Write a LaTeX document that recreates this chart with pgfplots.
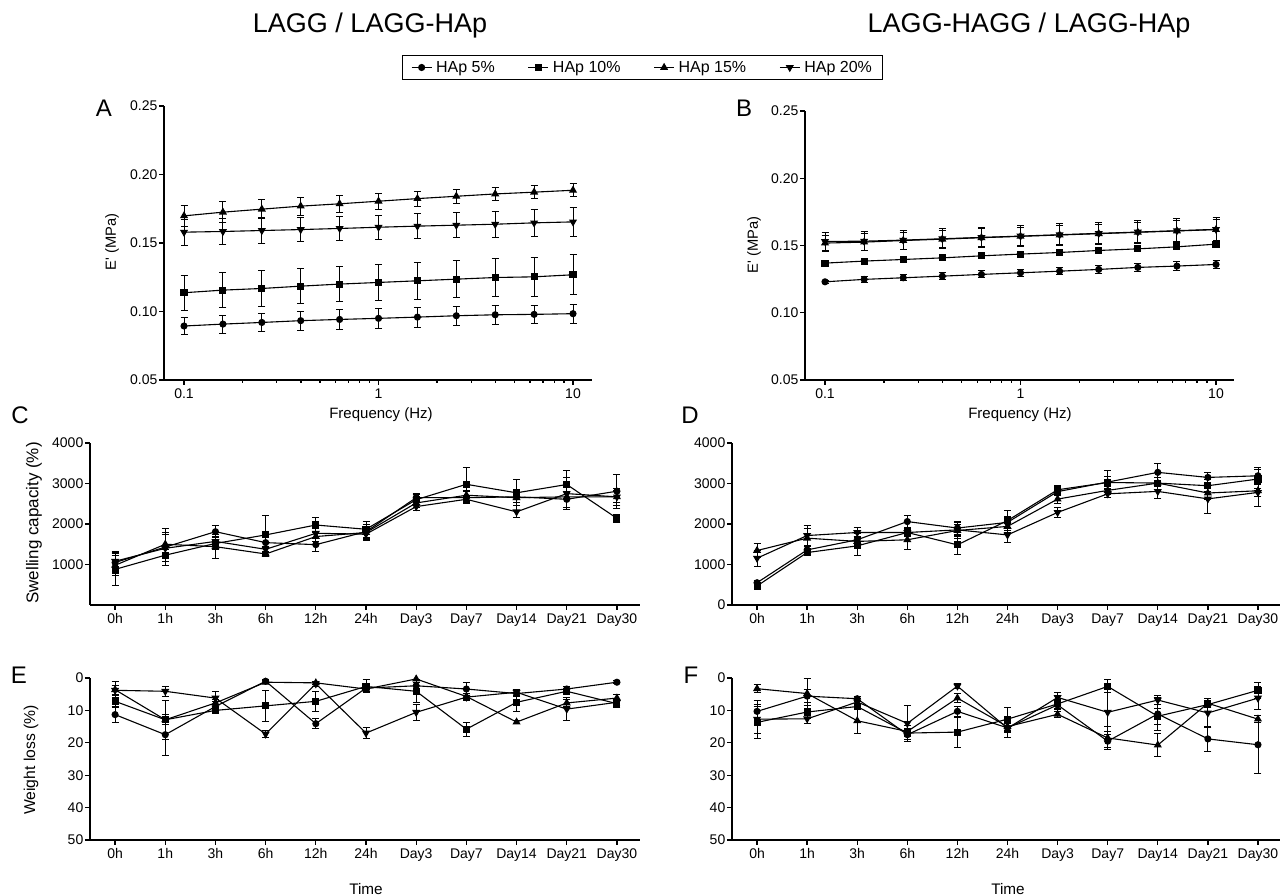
\documentclass[border=0pt]{standalone}
\usepackage{fontspec}
\setmainfont{Liberation Sans}
\usepackage{pgfplots}
\usepackage{pgfplotstable}
\pgfplotsset{compat=1.18}

% columns: x, 5% (c), 10% (s), 15% (t), 20% (v), each with its SD
\pgfplotstableread{
x      c      ce     s      se     t      te     v      ve
0.1    0.0894 0.0065 0.1137 0.0129 0.1698 0.0078 0.1579 0.0095
0.1585 0.0908 0.0066 0.1156 0.0128 0.1725 0.0075 0.1584 0.0093
0.2512 0.0920 0.0067 0.1168 0.0128 0.1747 0.0070 0.1591 0.0092
0.3981 0.0933 0.0068 0.1185 0.0128 0.1769 0.0066 0.1598 0.0090
0.6310 0.0942 0.0070 0.1200 0.0130 0.1786 0.0062 0.1606 0.0088
1      0.0950 0.0072 0.1212 0.0131 0.1805 0.0058 0.1615 0.0087
1.585  0.0959 0.0072 0.1224 0.0133 0.1824 0.0055 0.1623 0.0090
2.512  0.0969 0.0070 0.1236 0.0135 0.1841 0.0052 0.1630 0.0092
3.981  0.0976 0.0070 0.1248 0.0138 0.1858 0.0050 0.1637 0.0095
6.310  0.0979 0.0068 0.1253 0.0140 0.1871 0.0048 0.1647 0.0098
10     0.0984 0.0068 0.1268 0.0146 0.1885 0.0047 0.1654 0.0105
}\tabA

\pgfplotstableread{
x      c      ce     s      se     t      te     v      ve
0.1    0.1230 0.0012 0.1369 0.0008 0.1518 0.0060 0.1530 0.0070
0.1585 0.1248 0.0020 0.1384 0.0008 0.1525 0.0062 0.1532 0.0072
0.2512 0.1260 0.0023 0.1396 0.0009 0.1537 0.0063 0.1540 0.0073
0.3981 0.1272 0.0024 0.1408 0.0009 0.1547 0.0064 0.1550 0.0075
0.6310 0.1285 0.0026 0.1423 0.0010 0.1558 0.0066 0.1560 0.0077
1      0.1297 0.0027 0.1436 0.0010 0.1568 0.0068 0.1570 0.0080
1.585  0.1309 0.0028 0.1448 0.0011 0.1578 0.0070 0.1580 0.0082
2.512  0.1322 0.0030 0.1463 0.0011 0.1588 0.0072 0.1590 0.0085
3.981  0.1337 0.0031 0.1475 0.0012 0.1598 0.0074 0.1600 0.0088
6.310  0.1347 0.0032 0.1490 0.0012 0.1608 0.0076 0.1610 0.0090
10     0.1359 0.0033 0.1510 0.0013 0.1618 0.0078 0.1620 0.0092
}\tabB

\pgfplotstableread{
x  c    ce  s    se  t    te  v    ve
0  1050 280 880  400 980  250 1080 220
1  1430 450 1230 150 1500 300 1400 330
2  1810 150 1520 140 1440 300 1570 120
3  1540 120 1730 480 1260 60  1375 80
4  1490 170 1975 180 1690 120 1770 120
5  1810 180 1870 200 1790 150 1750 150
6  2650 100 2600 120 2520 100 2430 100
7  2650 150 2980 420 2710 120 2610 80
8  2670 150 2770 320 2650 200 2300 150
9  2610 200 2975 350 2670 250 2750 400
10 2810 420 2140 100 2670 150 2670 200
}\tabC

\pgfplotstableread{
x  c    ce  s    se  t    te  v    ve
0  550  60  470  60  1345 180 1155 200
1  1360 80  1295 70  1650 250 1715 250
2  1610 150 1460 230 1570 120 1790 120
3  2060 150 1790 100 1610 230 1790 100
4  1900 150 1485 230 1840 150 1855 200
5  2040 150 2085 250 1940 150 1730 180
6  2800 100 2845 100 2615 120 2285 120
7  3035 150 3025 300 2830 100 2745 100
8  3275 220 3010 150 3010 150 2805 180
9  3150 130 2945 150 2765 150 2620 350
10 3190 200 3110 240 2820 150 2780 340
}\tabD

\pgfplotstableread{
x  c    ce  s    se  t    te  v    ve
0  11.3 2.5 7.2  2.0 3.6  2.5 3.8  1.5
1  17.5 6.3 12.9 6.0 12.9 1.5 4.1  1.5
2  8.8  1.5 10.0 1.0 7.7  1.0 6.2  2.0
3  1.0  0.5 8.6  4.7 1.3  0.5 17.3 1.2
4  14.1 1.5 7.2  3.0 1.5  0.5 1.8  0.8
5  3.1  1.0 2.6  2.0 3.4  1.0 17.0 1.8
6  2.4  1.0 4.1  3.5 0.3  0.5 10.6 2.5
7  3.4  2.0 15.8 2.2 5.7  1.0 5.9  1.0
8  4.8  1.0 7.5  2.8 13.6 0.5 4.4  1.0
9  3.4  0.8 4.1  0.8 7.7  1.0 9.6  3.5
10 1.3  0.5 7.9  1.2 6.2  1.0 7.5  1.0
}\tabE

\pgfplotstableread{
x  c    ce  s    se  t    te  v    ve
0  10.3 3.5 13.7 5.0 3.3  1.2 12.7 4.5
1  5.6  2.0 10.5 2.0 4.8  4.6 12.6 1.5
2  6.4  0.8 8.8  1.0 13.2 4.0 7.4  1.0
3  17.5 1.5 17.0 2.5 16.5 1.0 14.0 5.6
4  10.3 1.5 16.7 4.6 6.2  1.5 2.5  0.8
5  15.4 1.5 12.7 3.5 15.0 1.5 15.5 3.0
6  8.3  1.5 8.0  1.5 11.2 1.0 6.0  1.5
7  19.5 2.0 2.6  2.0 18.5 3.5 10.6 6.0
8  11.1 5.0 11.8 2.5 20.7 3.5 6.8  1.5
9  18.8 4.0 8.2  1.0 7.8  1.0 10.8 4.5
10 20.6 9.0 3.8  2.5 12.7 1.0 6.2  3.5
}\tabF

\newcommand{\fs}[1]{\fontsize{#1bp}{#1bp}\selectfont}

\pgfplotsset{
  gp/.style={
    scale only axis, anchor=center,
    axis x line*=bottom, axis y line*=left,
    axis line style={line width=1.3bp, black},
    tick style={line width=1.3bp, black},
    major tick length=5bp, tick align=outside,
    ticklabel style={font=\fs{14}},
    yticklabel style={inner xsep=1.5bp},
  },
  every axis plot/.append style={line width=1.1bp, black},
  pc/.style={mark=*, mark size=3bp, mark options={fill=black}},
  ps/.style={mark=square*, mark size=3bp, mark options={fill=black}},
  pt/.style={mark=triangle*, mark size=3.6bp, mark options={fill=black}},
  pv/.style={mark=triangle*, mark size=3.6bp, mark options={fill=black, rotate=180}},
}
\pgfplotsset{every error bar/.append style={line width=0.9bp, black}}
\pgfplotsset{error bars/error mark options={rotate=90, line width=0.9bp, mark size=3.5bp, black}}

\newcommand{\fourplots}[1]{%
\addplot[pc, error bars/.cd, y dir=both, y explicit] table[x=x, y=c, y error=ce] {#1};
\addplot[ps, error bars/.cd, y dir=both, y explicit] table[x=x, y=s, y error=se] {#1};
\addplot[pt, error bars/.cd, y dir=both, y explicit] table[x=x, y=t, y error=te] {#1};
\addplot[pv, error bars/.cd, y dir=both, y explicit] table[x=x, y=v, y error=ve] {#1};
}

\begin{document}
\begin{tikzpicture}
\useasboundingbox (0,0) rectangle (1280bp,896bp);

% A
\begin{axis}[gp, xmode=log, at={(378bp,653bp)}, width=428bp, height=274bp,
  xmin=0.0789, xmax=12.52, ymin=0.05, ymax=0.25,
  xtick={0.1,1,10}, xticklabels={0.1,1,10}, minor xtick={},
  ytick={0.05,0.10,0.15,0.20,0.25}, yticklabels={0.05,0.10,0.15,0.20,0.25},
  legend columns=4,
  legend style={at={(1.118,1.1405)}, anchor=center, draw=black, line width=1bp,
    font=\fs{16}, inner xsep=9bp, inner ysep=3.5bp,
    /tikz/every odd column/.append style={column sep=2bp},
    /tikz/every even column/.append style={column sep=31bp}},
  legend image code/.code={\draw[mark repeat=2, mark phase=2, #1]
    plot coordinates {(0bp,0bp) (10bp,0bp) (20bp,0bp)};}]
\fourplots{\tabA}
\legend{HAp 5\%, HAp 10\%, HAp 15\%, HAp 20\%}
\end{axis}

% B
\begin{axis}[gp, xmode=log, at={(1019.5bp,650.5bp)}, width=429bp, height=269bp,
  xmin=0.079, xmax=12.36, ymin=0.05, ymax=0.25,
  xtick={0.1,1,10}, xticklabels={0.1,1,10}, minor xtick={},
  ytick={0.05,0.10,0.15,0.20,0.25}, yticklabels={0.05,0.10,0.15,0.20,0.25}]
\fourplots{\tabB}
\end{axis}

% C
\begin{axis}[gp, at={(365bp,372bp)}, width=550bp, height=162bp,
  xmin=-0.5, xmax=10.46, ymin=0, ymax=4000, xtick={0,...,10},
  xticklabels={0h,1h,3h,6h,12h,24h,Day3,Day7,Day14,Day21,Day30},
  ytick={1000,2000,3000,4000}, yticklabels={1000,2000,3000,4000}]
\fourplots{\tabC}
\end{axis}

% D
\begin{axis}[gp, at={(1006bp,372bp)}, width=548bp, height=162bp,
  xmin=-0.5, xmax=10.44, ymin=0, ymax=4000, xtick={0,...,10},
  xticklabels={0h,1h,3h,6h,12h,24h,Day3,Day7,Day14,Day21,Day30},
  ytick={0,1000,2000,3000,4000}, yticklabels={0,1000,2000,3000,4000}]
\fourplots{\tabD}
\end{axis}

% E
\begin{axis}[gp, at={(365bp,137bp)}, width=550bp, height=162bp, y dir=reverse,
  xmin=-0.5, xmax=10.46, ymin=0, ymax=50, xtick={0,...,10},
  xticklabels={0h,1h,3h,6h,12h,24h,Day3,Day7,Day14,Day21,Day30},
  ytick={0,10,20,30,40,50}, yticklabels={0,10,20,30,40,50}]
\fourplots{\tabE}
\end{axis}

% F
\begin{axis}[gp, at={(1006bp,137bp)}, width=548bp, height=162bp, y dir=reverse,
  xmin=-0.5, xmax=10.44, ymin=0, ymax=50, xtick={0,...,10},
  xticklabels={0h,1h,3h,6h,12h,24h,Day3,Day7,Day14,Day21,Day30},
  ytick={0,10,20,30,40,50}, yticklabels={0,10,20,30,40,50}]
\fourplots{\tabF}
\end{axis}

% titles and labels
\node[font=\fs{27}] at (370bp,870bp) {LAGG / LAGG-HAp};
\node[font=\fs{27}] at (1029bp,870bp) {LAGG-HAGG / LAGG-HAp};
\node[font=\fs{24}] at (104bp,788bp) {A};
\node[font=\fs{24}] at (744bp,788bp) {B};
\node[font=\fs{24}] at (20bp,481bp) {C};
\node[font=\fs{24}] at (690bp,481bp) {D};
\node[font=\fs{24}] at (19bp,221bp) {E};
\node[font=\fs{24}] at (691bp,221bp) {F};
\node[font=\fs{14.7}, rotate=90] at (112bp,654bp) {E\textquotesingle\ (MPa)};
\node[font=\fs{14.7}, rotate=90] at (754bp,651bp) {E\textquotesingle\ (MPa)};
\node[font=\fs{15}] at (381bp,481bp) {Frequency (Hz)};
\node[font=\fs{15}] at (1020bp,481bp) {Frequency (Hz)};
\node[font=\fs{17}, rotate=90] at (34bp,373bp) {Swelling capacity (\%)};
\node[font=\fs{15.7}, rotate=90] at (31bp,136bp) {Weight loss (\%)};
\node[font=\fs{15.3}] at (366bp,7bp) {Time};
\node[font=\fs{15.3}] at (1008bp,7bp) {Time};
\end{tikzpicture}
\end{document}
